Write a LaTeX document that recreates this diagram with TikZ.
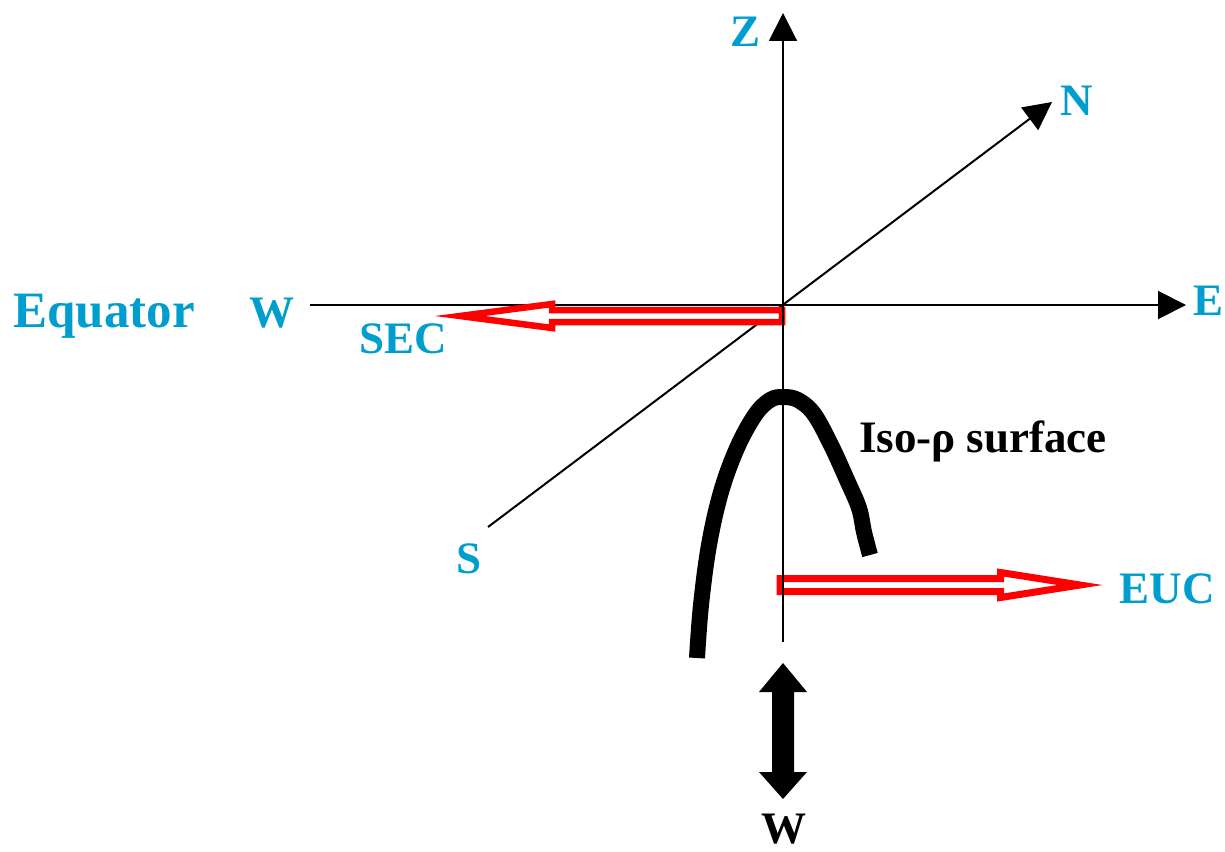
\documentclass[tikz,border=0pt]{standalone}
\usepackage{fontspec}
\setmainfont{Liberation Serif}
\usetikzlibrary{arrows.meta}
\definecolor{lblue}{RGB}{0,158,206}
\begin{document}
\begin{tikzpicture}[x=1pt,y=-1pt,
  axis/.style={line width=2pt, -{Triangle[length=28pt,width=28pt]}},
  lbl/.style={anchor=base, inner sep=0pt, text=lblue, font=\fontsize{45}{50}\selectfont\bfseries},
  hollow/.style={draw=red, fill=white, line join=miter, miter limit=20},
  surface/.style={line width=16pt, line cap=butt, line join=round}]
\useasboundingbox (0,0) rectangle (1225,851);
\coordinate (O) at (783,305);
\coordinate (Wend) at (310,305);
\coordinate (Etip) at (1186,305);
\coordinate (Send) at (488,527);
\coordinate (Ntip) at (1052,102);
\coordinate (Ztip) at (783,13);
\coordinate (Zbot) at (783,642);
% axes (horizontal and diagonal)
\draw[axis] (Wend) -- (Etip);
\draw[axis] (Send) -- (Ntip);
% SEC arrow
\draw[hollow, line width=6.5pt] (782,310) -- (552,310) -- (552,304) -- (460,316) -- (552,328) -- (552,322) -- (782,322) -- cycle;
% EUC arrow
\draw[hollow, line width=7pt] (780,578.5) -- (1000.5,578.5) -- (1000.5,572.5) -- (1080,585) -- (1000.5,597.5) -- (1000.5,591.5) -- (780,591.5) -- cycle;
% vertical axis
\draw[axis] (Zbot) -- (Ztip);
% iso-rho surface
\draw[surface] plot[smooth, tension=0.6] coordinates {(697,658) (701,605) (709,545) (721,492) (737,448) (755,415) (770,400) (783,397) (798,400) (814,414) (831,445) (847,480) (859,508) (864,532) (870,555)};
% vertical velocity double arrow
\fill[black] (783,663) -- (807,692) -- (794,692) -- (794,772) -- (807,772) -- (783,799) -- (759,772) -- (772,772) -- (772,692) -- (759,692) -- cycle;
% labels
\node[lbl] (Zl) at (745,47) {Z};
\node[lbl] (Nl) at (1077,115) {N};
\node[lbl] (El) at (1208,315) {E};
\node[lbl] (Wl) at (272,327) {W};
\node[lbl, font=\fontsize{51}{56}\selectfont\bfseries] (Eq) at (104,327) {Equator};
\node[lbl] (SECl) at (403,353) {SEC};
\node[lbl] (Sl) at (469,573) {S};
\node[lbl] (EUCl) at (1167,603) {EUC};
\node[lbl, text=black] (Iso) at (983,452) {Iso-ρ surface};
\node[lbl, text=black] (Wv) at (784,843) {W};
\end{tikzpicture}
\end{document}
